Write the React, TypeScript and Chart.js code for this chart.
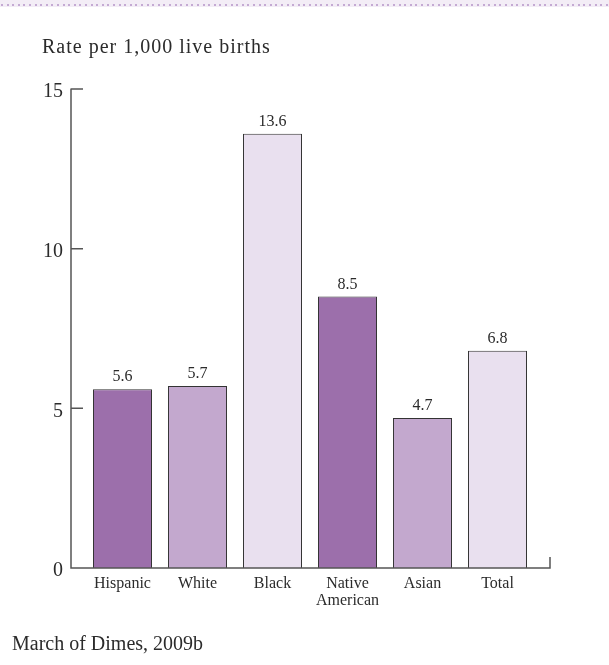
import React, { useEffect, useRef } from "react";
import { Chart, registerables } from "chart.js";

Chart.register(...registerables);

// Infant mortality by group, rate per 1,000 live births
const groups: (string | string[])[] = ["Hispanic", "White", "Black", ["Native", "American"], "Asian", "Total"];
const rates: number[] = [5.6, 5.7, 13.6, 8.5, 4.7, 6.8];
const barColors: string[] = ["#9c6fab", "#c3a8ce", "#e9e0ef", "#9c6fab", "#c3a8ce", "#e9e0ef"];
const yTicks: number[] = [0, 5, 10, 15];

const titleText = "Rate per 1,000 live births";
const sourceText = "March of Dimes, 2009b";

const SERIF = "'Liberation Serif', 'Times New Roman', serif";
const TEXT = "#2b2b2b";
const AXIS = "#555555";

// Draws the L-shaped axis with inward ticks, extending a little past the bars
const axisFrame = {
  id: "axisFrame",
  afterDatasetsDraw(chart: any) {
    const { ctx, chartArea, scales } = chart;
    const y = scales.y;
    const left = chartArea.left - 14;
    const right = chartArea.right + 15;
    const base = y.getPixelForValue(0);
    const top = y.getPixelForValue(15);
    ctx.save();
    ctx.strokeStyle = AXIS;
    ctx.lineWidth = 1.5;
    ctx.beginPath();
    ctx.moveTo(left, top - 0.5);
    ctx.lineTo(left, base);
    ctx.lineTo(right, base);
    ctx.lineTo(right, base - 11);
    for (const v of yTicks) {
      if (v === 0) continue;
      const py = y.getPixelForValue(v);
      ctx.moveTo(left, py);
      ctx.lineTo(left + 12, py);
    }
    ctx.stroke();
    ctx.restore();
  },
};

// Value written above each bar
const barValues = {
  id: "barValues",
  afterDatasetsDraw(chart: any) {
    const { ctx } = chart;
    const meta = chart.getDatasetMeta(0);
    ctx.save();
    ctx.font = `16px ${SERIF}`;
    ctx.fillStyle = TEXT;
    ctx.textAlign = "center";
    ctx.textBaseline = "alphabetic";
    meta.data.forEach((bar: any, i: number) => {
      ctx.fillText(rates[i].toFixed(1), bar.x, bar.y - 8);
    });
    ctx.restore();
  },
};

export default function App() {
  const canvasRef = useRef<HTMLCanvasElement | null>(null);

  useEffect(() => {
    if (!canvasRef.current) return;
    const chart = new Chart(canvasRef.current, {
      type: "bar",
      data: {
        labels: groups,
        datasets: [
          {
            data: rates,
            backgroundColor: barColors,
            borderColor: "#333333",
            borderWidth: 1,
            categoryPercentage: 1,
            barPercentage: 0.787,
          },
        ],
      },
      options: {
        responsive: false,
        animation: false,
        devicePixelRatio: 1,
        layout: { padding: { top: 89, right: 74, left: 0, bottom: 0 } },
        plugins: {
          legend: { display: false },
          tooltip: { enabled: false },
          title: { display: false },
        },
        scales: {
          x: {
            type: "category",
            offset: true,
            grid: { display: false, drawTicks: false },
            border: { display: false },
            ticks: {
              color: TEXT,
              font: { family: SERIF, size: 16, lineHeight: "17px" },
              padding: 7,
              maxRotation: 0,
              autoSkip: false,
            },
            afterFit: (s: any) => {
              s.height = 97;
            },
          },
          y: {
            min: 0,
            max: 15,
            grid: { display: false, drawTicks: false },
            border: { display: false },
            ticks: {
              stepSize: 5,
              color: TEXT,
              font: { family: SERIF, size: 20 },
              padding: 22,
              labelOffset: 3,
            },
            afterFit: (s: any) => {
              s.width = 85;
            },
          },
        },
      },
      plugins: [axisFrame, barValues],
    });
    return () => chart.destroy();
  }, []);

  return (
    <div
      style={{
        position: "absolute",
        top: 0,
        left: 0,
        width: 609,
        height: 665,
        background: "#ffffff",
        overflow: "hidden",
      }}
    >
      <canvas ref={canvasRef} width={609} height={665} style={{ position: "absolute", top: 0, left: 0 }} />
      <div
        style={{
          position: "absolute",
          top: 0,
          left: 0,
          width: 609,
          height: 7,
          background: "#f3edf6",
        }}
      />
      <div
        style={{
          position: "absolute",
          top: 4,
          left: 1,
          width: 608,
          height: 2,
          backgroundImage: "repeating-linear-gradient(90deg, #c4aad3 0px, #c4aad3 2px, transparent 2px, transparent 5.6px)",
        }}
      />
      <div
        style={{
          position: "absolute",
          top: 36,
          left: 42,
          font: `20px ${SERIF}`,
          lineHeight: "20px",
          letterSpacing: "1px",
          color: TEXT,
          whiteSpace: "nowrap",
        }}
      >
        {titleText}
      </div>
      <div
        style={{
          position: "absolute",
          top: 633,
          left: 12,
          font: `20px ${SERIF}`,
          lineHeight: "20px",
          color: TEXT,
          whiteSpace: "nowrap",
        }}
      >
        {sourceText}
      </div>
    </div>
  );
}
